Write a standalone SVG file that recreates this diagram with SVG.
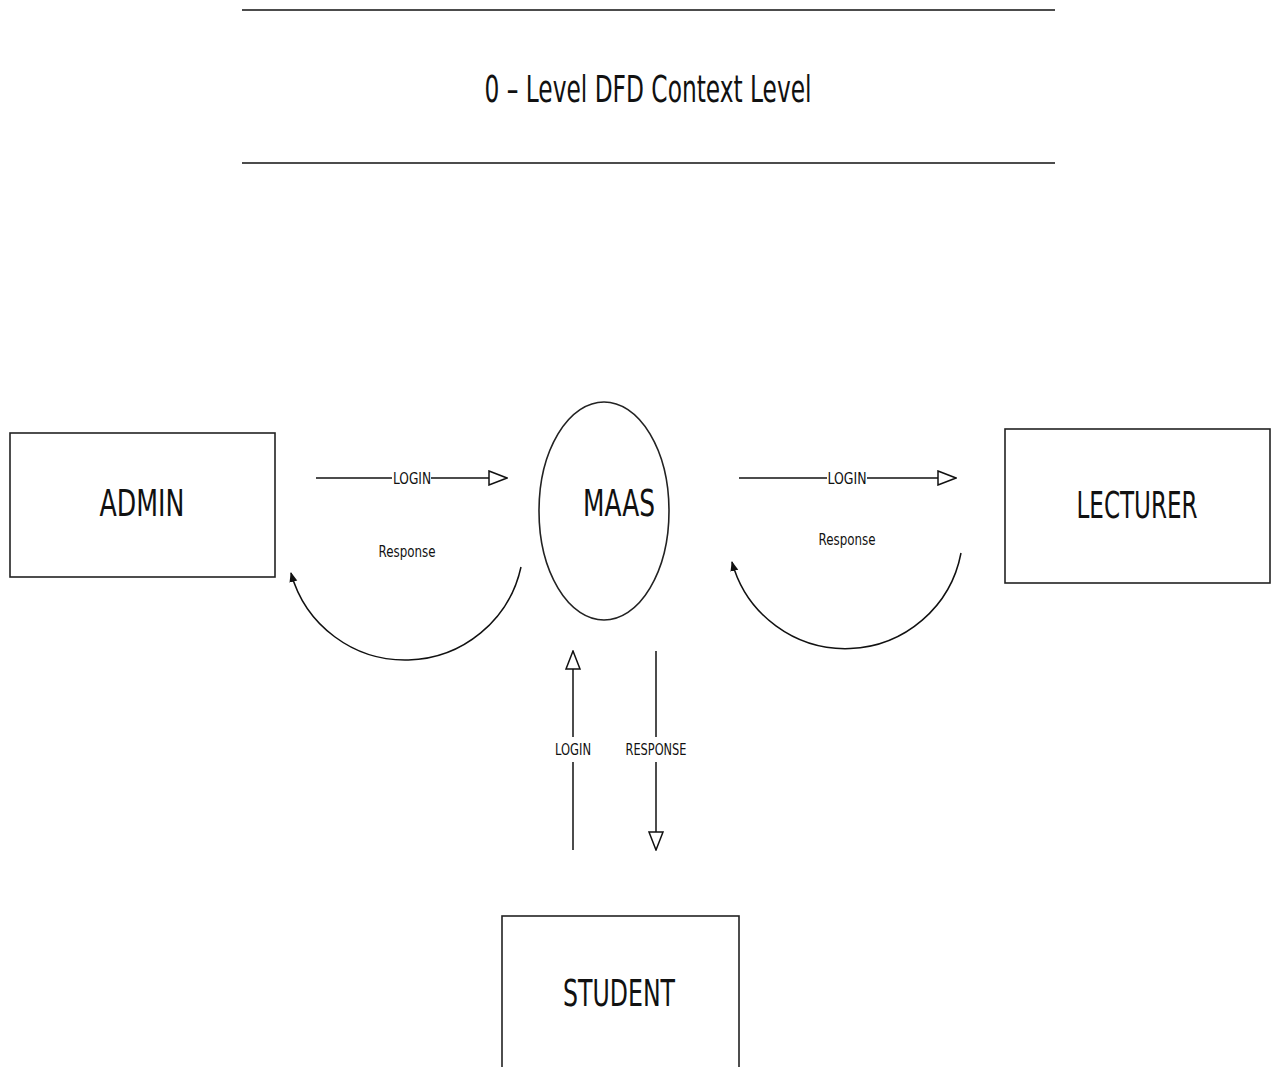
<svg xmlns="http://www.w3.org/2000/svg" width="1277" height="1067" viewBox="0 0 1277 1067">
<style>
  .box{fill:#fff;stroke:#222;stroke-width:1.6}
  .ln{fill:none;stroke:#111;stroke-width:1.5}
  .t{font-family:"Liberation Sans Narrow","DejaVu Sans Condensed","Liberation Sans",sans-serif;fill:#111;text-anchor:middle}
  .big{font-size:37px}
  .sm{font-size:16px}
</style>
<defs>
  <marker id="hollow" viewBox="0 0 20 16" refX="19" refY="8" markerWidth="20" markerHeight="16" markerUnits="userSpaceOnUse" orient="auto">
    <path d="M1,1 L19,8 L1,15 Z" fill="#fff" stroke="#111" stroke-width="1.5"/>
  </marker>
  <marker id="solid" viewBox="0 0 10 10" refX="9" refY="5" markerWidth="10" markerHeight="10" markerUnits="userSpaceOnUse" orient="auto">
    <path d="M0,1 L10,5 L0,9 Z" fill="#111"/>
  </marker>
</defs>
<rect width="1277" height="1067" fill="#fff"/>
<g id="title">
  <line x1="242" y1="10" x2="1055" y2="10" class="ln"/>
  <line x1="242" y1="163" x2="1055" y2="163" class="ln"/>
  <text x="648" y="102" class="t" style="font-size:38px" textLength="327" lengthAdjust="spacingAndGlyphs">0 – Level DFD Context Level</text>
</g>
<g id="admin">
  <rect x="10" y="433" width="265" height="144" class="box"/>
  <text x="142" y="516" class="t big" textLength="85" lengthAdjust="spacingAndGlyphs">ADMIN</text>
</g>
<g id="maas">
  <ellipse cx="604" cy="511" rx="65" ry="109" class="box"/>
  <text x="619" y="516" class="t big" textLength="72" lengthAdjust="spacingAndGlyphs">MAAS</text>
</g>
<g id="lecturer">
  <rect x="1005" y="429" width="265" height="154" class="box"/>
  <text x="1137" y="518" class="t big" textLength="121" lengthAdjust="spacingAndGlyphs">LECTURER</text>
</g>
<g id="student">
  <rect x="502" y="916" width="237" height="160" class="box"/>
  <text x="619" y="1006" class="t big" textLength="112" lengthAdjust="spacingAndGlyphs">STUDENT</text>
</g>
<g id="connectors">
  <line x1="316" y1="478" x2="392" y2="478" class="ln"/>
  <line x1="431" y1="478" x2="507" y2="478" class="ln" marker-end="url(#hollow)"/>
  <text x="412" y="484" class="t sm" textLength="38" lengthAdjust="spacingAndGlyphs">LOGIN</text>
  <text x="407" y="557" class="t sm" textLength="57" lengthAdjust="spacingAndGlyphs">Response</text>
  <path d="M521,567 A118.5,118.5 0 0 1 291,573" class="ln" marker-end="url(#solid)"/>

  <line x1="739" y1="478" x2="827" y2="478" class="ln"/>
  <line x1="867" y1="478" x2="956" y2="478" class="ln" marker-end="url(#hollow)"/>
  <text x="847" y="484" class="t sm" textLength="39" lengthAdjust="spacingAndGlyphs">LOGIN</text>
  <text x="847" y="545" class="t sm" textLength="57" lengthAdjust="spacingAndGlyphs">Response</text>
  <path d="M961,553 A117.6,117.6 0 0 1 732,562" class="ln" marker-end="url(#solid)"/>

  <line x1="573" y1="850" x2="573" y2="762" class="ln"/>
  <line x1="573" y1="737" x2="573" y2="651" class="ln" marker-end="url(#hollow)"/>
  <text x="573" y="755" class="t sm" textLength="36" lengthAdjust="spacingAndGlyphs">LOGIN</text>

  <line x1="656" y1="651" x2="656" y2="737" class="ln"/>
  <line x1="656" y1="762" x2="656" y2="850" class="ln" marker-end="url(#hollow)"/>
  <text x="656" y="755" class="t sm" textLength="61" lengthAdjust="spacingAndGlyphs">RESPONSE</text>
</g>
</svg>
